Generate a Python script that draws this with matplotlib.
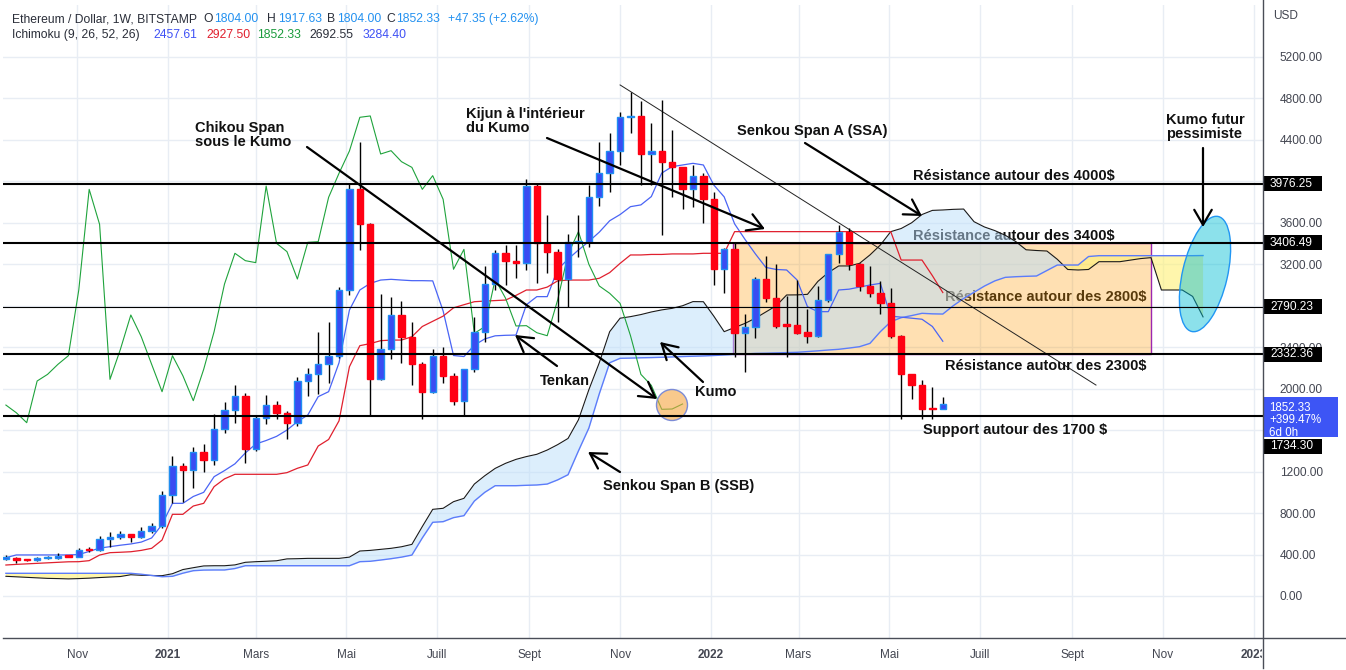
import numpy as np
import pandas as pd
import matplotlib
matplotlib.use("Agg")
import matplotlib.pyplot as plt
import matplotlib.dates as mdates
from matplotlib.patches import Rectangle, Ellipse
from matplotlib.lines import Line2D
from matplotlib.transforms import Bbox, blended_transform_factory

plt.rcParams['font.family'] = ['Liberation Sans', 'DejaVu Sans']

W, H = 1346, 670

# weekly ETH/USD candles (Bitstamp), first week = 2020-09-14
first_week = '2020-09-14'
opens = [360, 367, 352, 346, 366, 368, 389, 380, 444, 441,
         547, 572, 595, 572, 624, 675, 971, 1251, 1218, 1386,
         1309, 1608, 1791, 1931, 1415, 1720, 1842, 1768, 1672, 2074,
         2138, 2235, 2318, 2952, 3923, 3585, 2090, 2380, 2711, 2502,
         2235, 1971, 2318, 2125, 1884, 2187, 2550, 3010, 3306, 3235,
         3216, 3955, 3402, 3322, 3058, 3412, 3418, 3846, 4078, 4293,
         4618, 4631, 4264, 4296, 4190, 4135, 3923, 4055, 3827, 3152,
         3344, 2534, 2598, 3055, 2872, 2621, 2610, 2545, 2511, 2855,
         3296, 3515, 3200, 2991, 2920, 2823, 2511, 2138, 2032, 1812,
         1804.00]
highs = [392, 372, 360, 375, 388, 414, 398, 466, 473, 578,
         614, 624, 600, 666, 701, 1013, 1350, 1279, 1434, 1466,
         1753, 1871, 2036, 1960, 1750, 1939, 1881, 1780, 2110, 2196,
         2550, 2646, 2984, 3970, 4383, 3600, 2913, 2881, 2846, 2646,
         2260, 2380, 2405, 2150, 2190, 2695, 3187, 3338, 3386, 3386,
         4020, 3970, 3676, 3345, 3492, 3676, 3965, 4377, 4463, 4672,
         4865, 4779, 4566, 4785, 4495, 4140, 4158, 4080, 3900, 3360,
         3402, 2720, 3081, 3280, 3203, 2894, 3048, 2765, 2991, 3300,
         3579, 3547, 3210, 3184, 3039, 2968, 2520, 2140, 2084, 2013,
         1917.63]
lows = [352, 316, 336, 340, 360, 360, 372, 376, 428, 437,
        476, 553, 524, 560, 612, 660, 900, 910, 1038, 1199,
        1264, 1569, 1666, 1286, 1400, 1659, 1707, 1515, 1640, 1929,
        1949, 2052, 2300, 2900, 3338, 1736, 2080, 2283, 2252, 2035,
        1704, 1960, 2052, 1843, 1736, 2158, 2453, 2952, 3000, 3065,
        3145, 3016, 3113, 2646, 2791, 3273, 3370, 3762, 3900, 4158,
        4463, 3965, 3965, 3483, 3852, 3730, 3756, 3595, 3000, 2926,
        2309, 2164, 2486, 2839, 2582, 2309, 2530, 2444, 2500, 2840,
        3209, 3145, 2945, 2887, 2717, 2486, 1704, 1904, 1704, 1710,
        1804.00]
closes = [367, 352, 346, 366, 368, 389, 380, 444, 441, 547,
          572, 595, 572, 624, 675, 971, 1251, 1218, 1386, 1309,
          1608, 1791, 1931, 1415, 1720, 1842, 1768, 1672, 2074, 2138,
          2235, 2318, 2952, 3923, 3585, 2090, 2380, 2711, 2502, 2235,
          1971, 2318, 2125, 1884, 2187, 2550, 3010, 3306, 3235, 3216,
          3955, 3402, 3322, 3058, 3412, 3418, 3846, 4078, 4293, 4618,
          4631, 4264, 4296, 4190, 4135, 3923, 4055, 3827, 3152, 3344,
          2534, 2598, 3055, 2872, 2605, 2608, 2540, 2511, 2855, 3296,
          3515, 3200, 2991, 2920, 2823, 2511, 2138, 2032, 1801, 1804,
          1852.33]

# Ichimoku (9, 26, 52, 26) as drawn on the chart
tenkan = [370, 396, 396, 396, 396, 396, 396, 400, 430, 462,
          476, 490, 502, 520, 560, 690, 894, 894, 960, 1000,
          1151, 1210, 1275, 1380, 1466, 1500, 1540, 1601, 1682, 1746,
          1923, 1971, 2250, 2759, 2952, 3016, 3048, 3055, 3048, 3042,
          3042, 3040, 2750, 2320, 2310, 2420, 2480, 2510, 2515, 2517,
          2810, 2888, 2888, 3150, 3250, 3338, 3420, 3510, 3620, 3680,
          3756, 3773, 3853, 4080, 4142, 4158, 4174, 4158, 3965, 3850,
          3590, 3440, 3300, 3170, 3150, 3145, 3049, 2791, 2743, 2743,
          2952, 2960, 2980, 3000, 3016, 2700, 2690, 2680, 2670, 2600,
          2457.61]
kijun = [299, 305, 310, 315, 320, 325, 330, 331, 341, 395,
         418, 422, 427, 440, 460, 540, 788, 788, 868, 894,
         1055, 1130, 1174, 1174, 1174, 1174, 1174, 1190, 1232, 1264,
         1447, 1510, 1690, 2212, 2415, 2435, 2463, 2469, 2469, 2501,
         2600, 2650, 2700, 2780, 2810, 2839, 2845, 2850, 2855, 2900,
         2952, 2952, 2980, 3040, 3048, 3048, 3048, 3065, 3120, 3209,
         3290, 3290, 3295, 3295, 3300, 3300, 3300, 3306, 3306, 3306,
         3515, 3515, 3515, 3515, 3515, 3515, 3515, 3515, 3515, 3515,
         3515, 3515, 3515, 3515, 3515, 3515, 3241, 3241, 3241, 3090,
         2927.50]
senkou_a = [190, 185, 180, 175, 170, 168, 165, 168, 172, 178,
            183, 188, 205, 200, 198, 196, 215, 255, 273, 290,
            292, 292, 300, 325, 331, 335, 340, 358, 360, 363,
            363, 363, 363, 375, 434, 440, 450, 460, 475, 498,
            670, 836, 846, 910, 942, 1080, 1160, 1231, 1280, 1318,
            1345, 1367, 1408, 1460, 1520, 1700, 1990, 2250, 2550, 2680,
            2695, 2715, 2740, 2760, 2775, 2800, 2840, 2839, 2700, 2550,
            2590, 2630, 2680, 2740, 2800, 2904, 2905, 2910, 3035, 3120,
            3184, 3184, 3209, 3290, 3386, 3515, 3545, 3600, 3680, 3720,
            3724, 3730, 3733, 3611, 3560, 3525, 3480, 3420, 3340, 3333,
            3328, 3248, 3150, 3145, 3150, 3225, 3225, 3225, 3240, 3255,
            3264, 2952, 2952, 2952, 2890, 2692.55]
senkou_b = [219, 219, 219, 219, 219, 219, 219, 219, 219, 219,
            219, 219, 219, 210, 198, 186, 190, 220, 244, 250,
            251, 251, 265, 292, 292, 292, 292, 292, 292, 292,
            292, 292, 292, 292, 331, 335, 347, 360, 375, 395,
            560, 711, 717, 756, 775, 916, 1000, 1064, 1064, 1064,
            1068, 1071, 1080, 1120, 1170, 1400, 1620, 1950, 2250, 2293,
            2295, 2298, 2300, 2303, 2306, 2310, 2313, 2316, 2320, 2325,
            2330, 2335, 2340, 2342, 2345, 2348, 2351, 2358, 2365, 2373,
            2380, 2392, 2405, 2437, 2550, 2646, 2685, 2705, 2727, 2722,
            2720, 2800, 2870, 2930, 2990, 3040, 3074, 3080, 3084, 3087,
            3140, 3193, 3193, 3193, 3275, 3283, 3283, 3283, 3283, 3283,
            3283, 3283, 3283, 3283, 3283, 3284.40]
chikou_shift = 25

levels = [3976.25, 3406.49, 2790.23, 2332.36, 1734.30]
level_widths = [1.5, 1.5, 0.8, 1.5, 1.5]

zone_dates = ['2022-01-16', '2022-10-24']
zone_prices = [2332.36, 3406.49]
trend_dates = ['2021-11-01', '2022-09-17']
trend_prices = [4930, 2035]

month_ticks = ['2020-11-01', '2021-01-01', '2021-03-01', '2021-05-01', '2021-07-01',
               '2021-09-01', '2021-11-01', '2022-01-01', '2022-03-01', '2022-05-01',
               '2022-07-01', '2022-09-01', '2022-11-01', '2023-01-01']
month_labels = ['Nov', '2021', 'Mars', 'Mai', 'Juill', 'Sept', 'Nov', '2022',
                'Mars', 'Mai', 'Juill', 'Sept', 'Nov', '2023']
price_ticks = np.arange(0, 5201, 400)
# tick labels covered by the price boxes on the axis
hidden_ticks = [4000, 2800, 1600]


def num(dates):
    return mdates.date2num(pd.to_datetime(dates).to_pydatetime())


def fp(x, y):
    return (x, H - y)


weeks = pd.date_range(first_week, periods=len(closes), freq='7D')
cloud_weeks = pd.date_range(first_week, periods=len(senkou_a), freq='7D')
xd = num(weeks)
xc = num(cloud_weeks)
o = np.array(opens, float)
hi = np.array(highs, float)
lo = np.array(lows, float)
c = np.array(closes, float)
sa = np.array(senkou_a, float)
sb = np.array(senkou_b, float)

fig = plt.figure(figsize=(W / 100, H / 100), dpi=100)
ax = fig.add_axes([3 / W, (H - 638) / H, 1260 / W, 633 / H])

px_day = 10.41 / 7
d21 = num(['2021-01-01'])[0]
ax.set_xlim(d21 - 165 / px_day, d21 + 1095 / px_day)
ax.set_ylim(-42 * 9.647, 591 * 9.647)

for s in ax.spines.values():
    s.set_visible(False)
ax.set_axisbelow(True)
ax.grid(True, color='#e8edf4', lw=1)

# annotation texts that sit under the drawings
under = [("Résistance autour des 3400$", 913, 236),
         ("Résistance autour des 2800$", 945, 297)]
for s, x, y in under:
    ax.annotate(s, xy=fp(x, y), xycoords='figure pixels', ha='left', va='center',
                fontsize=10.5, fontweight='bold', color='#111111', zorder=0.9)

# orange zone
zx = num(zone_dates)
ax.add_patch(Rectangle((zx[0], zone_prices[0]), zx[1] - zx[0], zone_prices[1] - zone_prices[0],
                       facecolor=(1.0, 0.6, 0.0, 0.3), edgecolor='#9c27b0', lw=1, zorder=1))

# kumo
ax.fill_between(xc, sa, sb, where=sa >= sb, interpolate=True, color='#bbdefb', alpha=0.5, lw=0, zorder=1.5)
ax.fill_between(xc, sa, sb, where=sa < sb, interpolate=True, color='#fff176', alpha=0.6, lw=0, zorder=1.5)
ax.plot(xc, sa, color='#1a1a1a', lw=0.8, zorder=2)
ax.plot(xc, sb, color='#5c7cfa', lw=1.0, zorder=2)

ax.plot(xd, tenkan, color='#4a64f5', lw=0.9, zorder=2.1)
ax.plot(xd, kijun, color='#e0202e', lw=0.9, zorder=2.1)
ax.plot(xd[:len(c) - chikou_shift], c[chikou_shift:], color='#1fa33c', lw=0.8, zorder=2.1)

# trend line
tx = num(trend_dates)
ax.plot(tx, trend_prices, color='#222222', lw=0.7, zorder=2.2)

# candles
up = c >= o
ax.vlines(xd, lo, hi, color='black', lw=1, zorder=4)
bottom = np.minimum(o, c)
height = np.maximum(np.abs(c - o), 12)
ax.bar(xd[up], height[up], bottom=bottom[up], width=4.3, color='#3a4cf2',
       edgecolor='#1f8ef1', lw=1, zorder=5)
ax.bar(xd[~up], height[~up], bottom=bottom[~up], width=4.3, color='#ff0013',
       edgecolor='#ff0013', lw=1, zorder=5)

for v, lw in zip(levels, level_widths):
    ax.axhline(v, color='black', lw=lw, zorder=6)

# circle + ellipse
fig_in = fig.dpi_scale_trans
ax.add_patch(Ellipse((672 / 100, (H - 405) / 100), 0.31, 0.31, transform=fig_in,
                     facecolor=(0.96, 0.65, 0.25, 0.6), edgecolor='#7b8bd6', lw=1, zorder=3))
ax.add_patch(Ellipse((1205 / 100, (H - 274) / 100), 0.45, 1.18, angle=-13, transform=fig_in,
                     facecolor=(0.0, 0.74, 0.83, 0.45), edgecolor='#2196f3', lw=1,
                     zorder=3, clip_on=False))

# annotation texts
notes = [("Chikou Span\nsous le Kumo", 195, 135, 'left'),
         ("Kijun à l'intérieur\ndu Kumo", 466, 121, 'left'),
         ("Senkou Span A (SSA)", 737, 131, 'left'),
         ("Tenkan", 540, 381, 'left'),
         ("Kumo", 695, 392, 'left'),
         ("Senkou Span B (SSB)", 603, 486, 'left'),
         ("Résistance autour des 4000$", 913, 176, 'left'),
         ("Résistance autour des 2300$", 945, 366, 'left'),
         ("Support autour des 1700 $", 923, 430, 'left'),
         ("Kumo futur\npessimiste", 1205, 127, 'center')]
for s, x, y, ha in notes:
    ax.annotate(s, xy=fp(x, y), xycoords='figure pixels', ha=ha, va='center',
                fontsize=10.5, fontweight='bold', color='#111111', linespacing=1.0,
                multialignment='left', zorder=12)

arrows = [((307, 147), (657, 399)),
          ((547, 138), (765, 229)),
          ((805, 143), (922, 216)),
          ((557, 366), (515, 335)),
          ((703, 382), (660, 342)),
          ((620, 472), (588, 452)),
          ((1203, 148), (1203, 227))]
for tail, tip in arrows:
    ax.annotate('', xy=fp(*tip), xytext=fp(*tail), xycoords='figure pixels',
                textcoords='figure pixels', zorder=13,
                arrowprops=dict(arrowstyle='->,head_length=0.6,head_width=0.35',
                                mutation_scale=18, lw=1.6, color='black',
                                shrinkA=0, shrinkB=0))

# axes ticks
ax.set_xticks(num(month_ticks))
ax.set_xticklabels(month_labels)
ax.tick_params(axis='x', length=0, pad=8, labelsize=8.5, labelcolor='#434651')
for t in ax.get_xticklabels():
    if t.get_text().isdigit():
        t.set_fontweight('bold')
    if t.get_text() == '2023':
        t.set_clip_box(Bbox.from_extents(0, 0, 1262, H))
        t.set_clip_on(True)
ax.yaxis.tick_right()
ax.set_yticks(price_ticks)
ax.set_yticklabels(['' if v in hidden_ticks else f'{v:.2f}' for v in price_ticks])
ax.tick_params(axis='y', length=0, pad=12, labelsize=8.6, labelcolor='#434651')

# price labels on the axis
bt = blended_transform_factory(ax.transAxes, ax.transData)
vpx = 9.647
label_shift = {1734.30: -30}
for v in levels:
    yv = v + label_shift.get(v, 0) * vpx
    ax.add_patch(Rectangle((1.0, yv - 7.5 * vpx), 59 / 1260, 15 * vpx, transform=bt,
                           facecolor='black', edgecolor='none', clip_on=False, zorder=20))
    ax.text(1.0 + 7 / 1260, yv, f'{v:.2f}', transform=bt, ha='left', va='center',
            fontsize=8.6, color='white', clip_on=False, zorder=21)
last = closes[-1]
ax.add_patch(Rectangle((1.0, last - 33 * vpx), 75 / 1260, 40 * vpx, transform=bt,
                       facecolor='#3d55f5', edgecolor='none', clip_on=False, zorder=20))
ax.text(1.0 + 6 / 1260, last + 2 * vpx, '1852.33\n+399.47%\n6d 0h', transform=bt,
        ha='left', va='top', fontsize=8.3, color='white', linespacing=1.05,
        clip_on=False, zorder=21)

fig.text(1273 / W, 1 - 16 / H, 'USD', fontsize=8.6, color='#434651', va='center')

# axis frame lines
fig.add_artist(Line2D([3 / W, 1], [(H - 638) / H] * 2, color='#4a4d57', lw=1))
fig.add_artist(Line2D([1263 / W] * 2, [(H - 668) / H, 1], color='#4a4d57', lw=1))

# header legend
dark = '#2a2e39'
blue = '#2391f0'
row1 = [("Ethereum / Dollar, 1W, BITSTAMP", 12, dark), ("O", 203, dark), ("1804.00", 214, blue),
        ("H", 267, dark), ("1917.63", 278, blue), ("B", 327, dark), ("1804.00", 337, blue),
        ("C", 386, dark), ("1852.33", 396, blue), ("+47.35 (+2.62%)", 448, blue)]
row2 = [("Ichimoku (9, 26, 52, 26)", 12, dark), ("2457.61", 153, '#3f51f5'),
        ("2927.50", 206, '#e0202e'), ("1852.33", 257, '#1a9b3c'),
        ("2692.55", 309, dark), ("3284.40", 363, '#3f51f5')]
for row, y in ((row1, 19), (row2, 35)):
    for s, x, col in row:
        fig.text(x / W, 1 - y / H, s, fontsize=8.7, color=col, ha='left', va='center')

fig.savefig('out.png', dpi=100)
